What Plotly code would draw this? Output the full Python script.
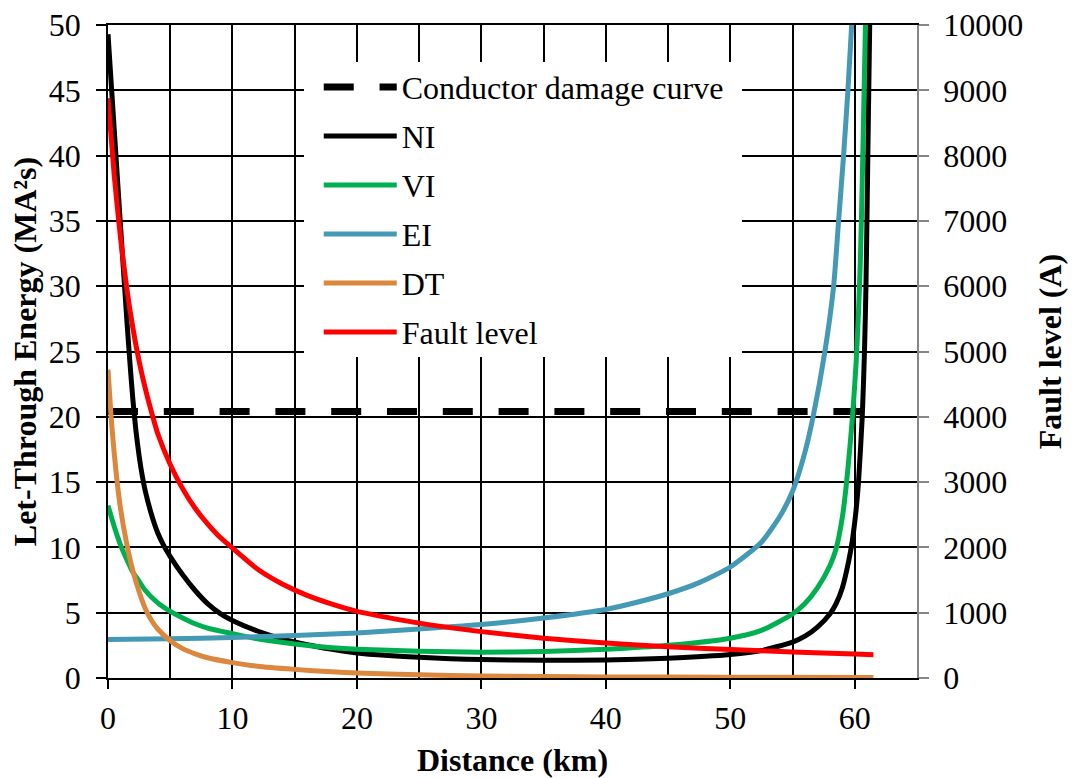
import plotly.graph_objects as go

# Distance along the feeder (km) and let-through energy I²t (MA²s) per relay curve
damage_x = [0, 61.5]
damage_y = [20.4, 20.4]

ni_x = [0, 0.5, 1, 1.5, 1.75, 2, 2.25, 2.5, 2.75, 3, 3.5, 4, 4.5, 5, 6, 7, 8, 9, 10, 12, 14,
        16, 18, 20, 22.5, 25, 27.5, 30, 35, 40, 45, 50, 52.5, 55, 56, 57, 58, 58.5, 59, 59.5,
        59.8, 60.1, 60.3, 60.6, 60.78, 60.9, 61.05, 61.2]
ni_y = [49.3, 42.0, 34.7, 27.6, 24.3, 21.3, 18.9, 17.0, 15.5, 14.3, 12.5, 11.1, 10.1, 9.3, 7.9,
        6.7, 5.7, 4.95, 4.4, 3.6, 3.0, 2.55, 2.2, 1.92, 1.72, 1.58, 1.48, 1.41, 1.35, 1.38, 1.52,
        1.8, 2.1, 2.75, 3.2, 3.9, 4.9, 5.7, 6.9, 8.9, 10.5, 12.8, 15.0, 20.0, 25.0, 30.0, 40.0,
        50.0]

vi_x = [0, 0.5, 1, 1.5, 2, 2.5, 3, 4, 5, 6, 7, 8, 10, 12, 15, 18, 20, 25, 30, 35, 40, 45, 50,
        52.5, 55, 56, 57, 58, 58.5, 59, 59.3, 59.6, 59.84, 60.1, 60.3, 60.45, 60.6, 60.75, 60.86]
vi_y = [13.2, 11.6, 10.2, 9.1, 8.1, 7.4, 6.7, 5.75, 5.1, 4.6, 4.15, 3.82, 3.4, 3.0, 2.6, 2.32,
        2.2, 2.05, 1.98, 2.02, 2.2, 2.5, 3.05, 3.65, 4.9, 5.7, 6.9, 8.6, 9.9, 12.3, 14.6, 17.6,
        20.3, 24.0, 28.0, 32.0, 38.0, 45.0, 50.0]

ei_x = [0, 5, 10, 15, 20, 25, 30, 35, 40, 42.5, 45, 47.5, 50, 52.5, 54, 55, 56, 56.65, 57.6,
        58.3, 58.7, 59.1, 59.45, 59.75]
ei_y = [2.94, 3.0, 3.1, 3.25, 3.45, 3.76, 4.1, 4.6, 5.25, 5.8, 6.45, 7.3, 8.5, 10.4, 12.4, 14.3,
        17.3, 20.0, 25.0, 30.0, 35.0, 40.0, 45.0, 50.0]

dt_x = [0, 0.25, 0.5, 0.75, 1, 1.5, 2, 2.5, 3, 3.5, 4, 5, 6, 7, 8, 10, 12, 15, 18, 20, 25, 30,
        35, 40, 50, 61.5]
dt_y = [23.6, 20.0, 17.2, 14.9, 13.0, 10.3, 8.2, 6.6, 5.3, 4.4, 3.75, 2.85, 2.25, 1.85, 1.55,
        1.18, 0.9, 0.66, 0.47, 0.38, 0.24, 0.16, 0.11, 0.085, 0.055, 0.04]

# Prospective fault current (A) on the secondary axis
fault_x = [0, 0.5, 1, 1.5, 2, 2.5, 3, 3.6, 4, 5, 6, 7, 8, 9, 10, 12, 14, 16, 18, 20, 25, 30, 35,
           40, 45, 50, 55, 60, 61.5]
fault_a = [8880, 7700, 6750, 5980, 5360, 4850, 4430, 4000, 3740, 3270, 2900, 2600, 2360, 2155,
           1990, 1670, 1440, 1265, 1130, 1020, 840, 710, 610, 535, 480, 435, 398, 366, 355]

FONT = "Liberation Serif, Times New Roman, serif"
FS = 32
LW = 5

fig = go.Figure()
fig.add_trace(go.Scatter(x=damage_x, y=damage_y, name="Conductor damage curve", mode="lines",
                         line=dict(color="black", width=7, dash="30px,25.8px"),
                         legendgroup="g1"))
fig.add_trace(go.Scatter(x=ni_x, y=ni_y, name="NI", mode="lines",
                         line=dict(color="black", width=LW, shape="spline", smoothing=0.6),
                         legendgroup="g2"))
fig.add_trace(go.Scatter(x=vi_x, y=vi_y, name="VI", mode="lines",
                         line=dict(color="#00B050", width=LW, shape="spline", smoothing=0.6),
                         legendgroup="g3"))
fig.add_trace(go.Scatter(x=ei_x, y=ei_y, name="EI", mode="lines",
                         line=dict(color="#4499B4", width=LW, shape="spline", smoothing=0.6),
                         legendgroup="g4"))
fig.add_trace(go.Scatter(x=dt_x, y=dt_y, name="DT", mode="lines",
                         line=dict(color="#DC873E", width=LW, shape="spline", smoothing=0.6),
                         legendgroup="g5"))
fig.add_trace(go.Scatter(x=fault_x, y=fault_a, name="Fault level", mode="lines", yaxis="y2",
                         line=dict(color="#FF0000", width=LW, shape="spline", smoothing=0.6),
                         legendgroup="g6"))

# white panel behind the legend, hiding the grid there
fig.add_shape(type="rect", xref="paper", yref="paper", x0=0.2423, x1=0.7837, y0=0.4916,
              y1=0.9433, fillcolor="white", line=dict(width=0), layer="above")

fig.update_layout(
    width=1074, height=778,
    margin=dict(l=108, r=157, t=25, b=100, autoexpand=False),
    paper_bgcolor="white", plot_bgcolor="white",
    font=dict(family=FONT, size=FS, color="black"),
    showlegend=True,
    legend=dict(x=0.2605, y=0.947, xanchor="left", yanchor="top",
                bgcolor="rgba(255,255,255,0)", borderwidth=0,
                font=dict(family=FONT, size=FS, color="black"),
                itemwidth=73, tracegroupgap=4.4, traceorder="grouped"),
    xaxis=dict(range=[0, 65], tick0=0, dtick=10, ticks="outside", ticklen=9, tickwidth=1.5,
               tickcolor="black", showgrid=True, gridcolor="black", gridwidth=1.5,
               minor=dict(dtick=5, tick0=0, showgrid=True, gridcolor="black", gridwidth=1.5),
               showline=True, linecolor="black", linewidth=1.5, mirror=True, zeroline=False,
               automargin=False,
               tickfont=dict(family=FONT, size=FS), ticklabelstandoff=2,
               title=dict(text="<b>Distance (km)</b>", font=dict(family=FONT, size=FS),
                          standoff=14)),
    yaxis=dict(range=[0, 50], tick0=0, dtick=5, ticks="outside", ticklen=10, tickwidth=1.5,
               tickcolor="black", showgrid=True, gridcolor="black", gridwidth=1.5,
               showline=True, linecolor="black", linewidth=1.5, zeroline=False,
               automargin=False,
               tickfont=dict(family=FONT, size=FS), ticklabelstandoff=9,
               title=dict(text="<b>Let-Through Energy (MA²s)</b>",
                          font=dict(family=FONT, size=FS), standoff=3)),
    yaxis2=dict(range=[0, 10000], tick0=0, dtick=1000, overlaying="y", side="right",
                ticks="outside", ticklen=10, tickwidth=1.5, tickcolor="#868686",
                tickformat="d", showgrid=False, showline=True, linecolor="#868686",
                linewidth=1.5, zeroline=False, automargin=False,
                tickfont=dict(family=FONT, size=FS), ticklabelstandoff=8,
                title=dict(text="<b>Fault level (A)</b>", font=dict(family=FONT, size=FS),
                           standoff=16)),
)

fig.write_html("out.html")
